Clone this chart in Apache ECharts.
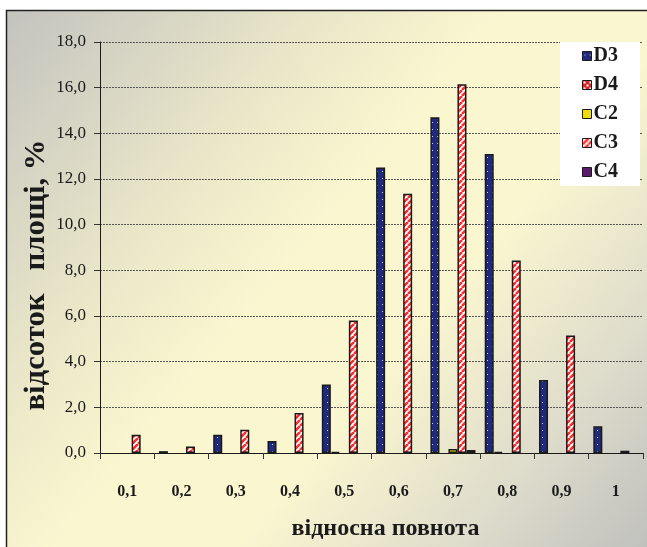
<!DOCTYPE html>
<html>
<head>
<meta charset="utf-8">
<script src="https://cdn.jsdelivr.net/npm/echarts@6/dist/echarts.min.js"></script>
<style>
  html, body { margin: 0; padding: 0; background: #ffffff; overflow: hidden; }
  #chart { width: 647px; height: 547px; }
</style>
</head>
<body>
<div id="chart"></div>
<script>
// Relative stocking classes and share of area (%) per stand type
const categories = ['0,1', '0,2', '0,3', '0,4', '0,5', '0,6', '0,7', '0,8', '0,9', '1'];
const seriesNames = ['D3', 'D4', 'C2', 'C3', 'C4'];
const valuesD3 = [0, 0.08, 0.8, 0.53, 3.0, 12.5, 14.7, 13.1, 3.2, 1.17];
const valuesD4 = [0, 0, 0, 0, 0.05, 0, 0, 0.05, 0, 0];
const valuesC2 = [0, 0, 0, 0, 0, 0, 0.17, 0, 0, 0];
const valuesC3 = [0.8, 0.29, 1.02, 1.75, 5.8, 11.35, 16.15, 8.43, 5.15, 0.1];
const valuesC4 = [0, 0, 0, 0, 0, 0, 0.13, 0, 0, 0];
const yTicks = [0, 2, 4, 6, 8, 10, 12, 14, 16, 18];

const SERIF = '"Liberation Serif", "Times New Roman", "DejaVu Serif", serif';

function tile(w, h, draw) {
  const c = document.createElement('canvas');
  c.width = w; c.height = h;
  draw(c.getContext('2d'));
  return c;
}

// navy with small light dots
const dotted = tile(5, 7, ctx => {
  ctx.fillStyle = '#1f2a7c';
  ctx.fillRect(0, 0, 5, 7);
  ctx.fillStyle = '#c9d0f2';
  ctx.fillRect(2, 3, 1, 1);
});

// red with white blocks
const checked = tile(6, 6, ctx => {
  ctx.fillStyle = '#e02424';
  ctx.fillRect(0, 0, 6, 6);
  ctx.fillStyle = '#ffffff';
  ctx.fillRect(1, 1, 2, 2);
  ctx.fillRect(4, 4, 2, 2);
});

// white with red upward diagonal stripes
const striped = tile(6, 6, ctx => {
  ctx.fillStyle = '#ffffff';
  ctx.fillRect(0, 0, 6, 6);
  ctx.strokeStyle = '#ff2a2a';
  ctx.lineWidth = 2.6;
  for (const k of [-6, 0, 6]) {
    ctx.beginPath();
    ctx.moveTo(k, 6);
    ctx.lineTo(k + 6, 0);
    ctx.stroke();
  }
});

const fills = [
  { image: dotted, repeat: 'repeat' },
  { image: checked, repeat: 'repeat' },
  '#ece000',
  { image: striped, repeat: 'repeat' },
  '#5c1a6c'
];
const seriesValues = [valuesD3, valuesD4, valuesC2, valuesC3, valuesC4];

const chart = echarts.init(document.getElementById('chart'), null, {
  renderer: 'canvas', width: 647, height: 547
});

const option = {
  animation: false,
  backgroundColor: '#ffffff',
  graphic: [
    {
      type: 'rect',
      z: -10,
      silent: true,
      shape: { x: 6, y: 10, width: 647, height: 540 },
      style: {
        fill: new echarts.graphic.LinearGradient(0, 0, 1, 1, [
          { offset: 0, color: '#c3c3bf' },
          { offset: 0.3, color: '#ebe8c9' },
          { offset: 0.45, color: '#faf6d0' },
          { offset: 0.62, color: '#faf6d0' },
          { offset: 0.82, color: '#dedccb' },
          { offset: 1, color: '#bfbfbd' }
        ]),
        stroke: null
      }
    },
    {
      type: 'polyline',
      z: -9,
      silent: true,
      shape: { points: [[6.5, 547], [6.5, 10.5], [647, 10.5]] },
      style: { stroke: '#222222', lineWidth: 1.5, fill: null }
    },
    {
      // vertical axis title
      type: 'text',
      z: 5,
      silent: true,
      x: 37,
      y: 275,
      rotation: Math.PI / 2,
      scaleX: 1.06,
      style: {
        text: 'відсоток   площі, %',
        font: 'bold 29px "Liberation Serif", "Times New Roman", serif',
        fill: '#1a1a1a',
        align: 'center',
        verticalAlign: 'middle'
      }
    }
  ],
  grid: { left: 100, right: 4, top: 42, bottom: 94, containLabel: false, outerBoundsMode: 'none' },
  legend: {
    orient: 'vertical',
    left: 560,
    top: 42,
    backgroundColor: '#ffffff',
    padding: [4, 22, 4, 22],
    itemGap: 9,
    itemWidth: 9,
    itemHeight: 9,
    itemStyle: { borderColor: '#1a1a1a', borderWidth: 1 },
    textStyle: { fontFamily: SERIF, fontWeight: 'bold', fontSize: 20, color: '#1a1a1a', padding: [0, 0, 0, -3] },
    data: seriesNames.map(n => ({ name: n, icon: 'rect' })),
    z: 10
  },
  xAxis: {
    type: 'category',
    data: categories,
    name: 'відносна повнота',
    nameLocation: 'middle',
    nameGap: 64,
    nameTextStyle: { fontFamily: SERIF, fontWeight: 'bold', fontSize: 24, color: '#1a1a1a', padding: [0, 0, 0, 28] },
    axisLine: { lineStyle: { color: '#1a1a1a', width: 1 } },
    axisTick: { show: true, alignWithLabel: false, length: 6, lineStyle: { color: '#333' } },
    axisLabel: { fontFamily: SERIF, fontWeight: 'bold', fontSize: 16, color: '#1a1a1a', margin: 31 },
    splitLine: { show: false }
  },
  yAxis: {
    type: 'value',
    min: 0,
    max: 18,
    interval: 2,
    axisLine: { show: true, lineStyle: { color: '#1a1a1a', width: 1 } },
    axisTick: { show: true, length: 6, lineStyle: { color: '#333' } },
    axisLabel: {
      fontFamily: SERIF, fontSize: 17, color: '#1a1a1a', margin: 14,
      formatter: v => (yTicks.includes(v) ? v.toFixed(1).replace('.', ',') : '')
    },
    splitLine: { show: true, lineStyle: { color: '#555555', width: 1, type: [2, 1] } }
  },
  series: seriesNames.map((name, i) => ({
    name,
    type: 'bar',
    // empty classes are left without a bar
    data: seriesValues[i].map(v => (v === 0 ? null : v)),
    barGap: '0%',
    barCategoryGap: '17%',
    itemStyle: { color: fills[i], borderColor: '#1a1a1a', borderWidth: 1.5 }
  }))
};

chart.setOption(option);
</script>
</body>
</html>
